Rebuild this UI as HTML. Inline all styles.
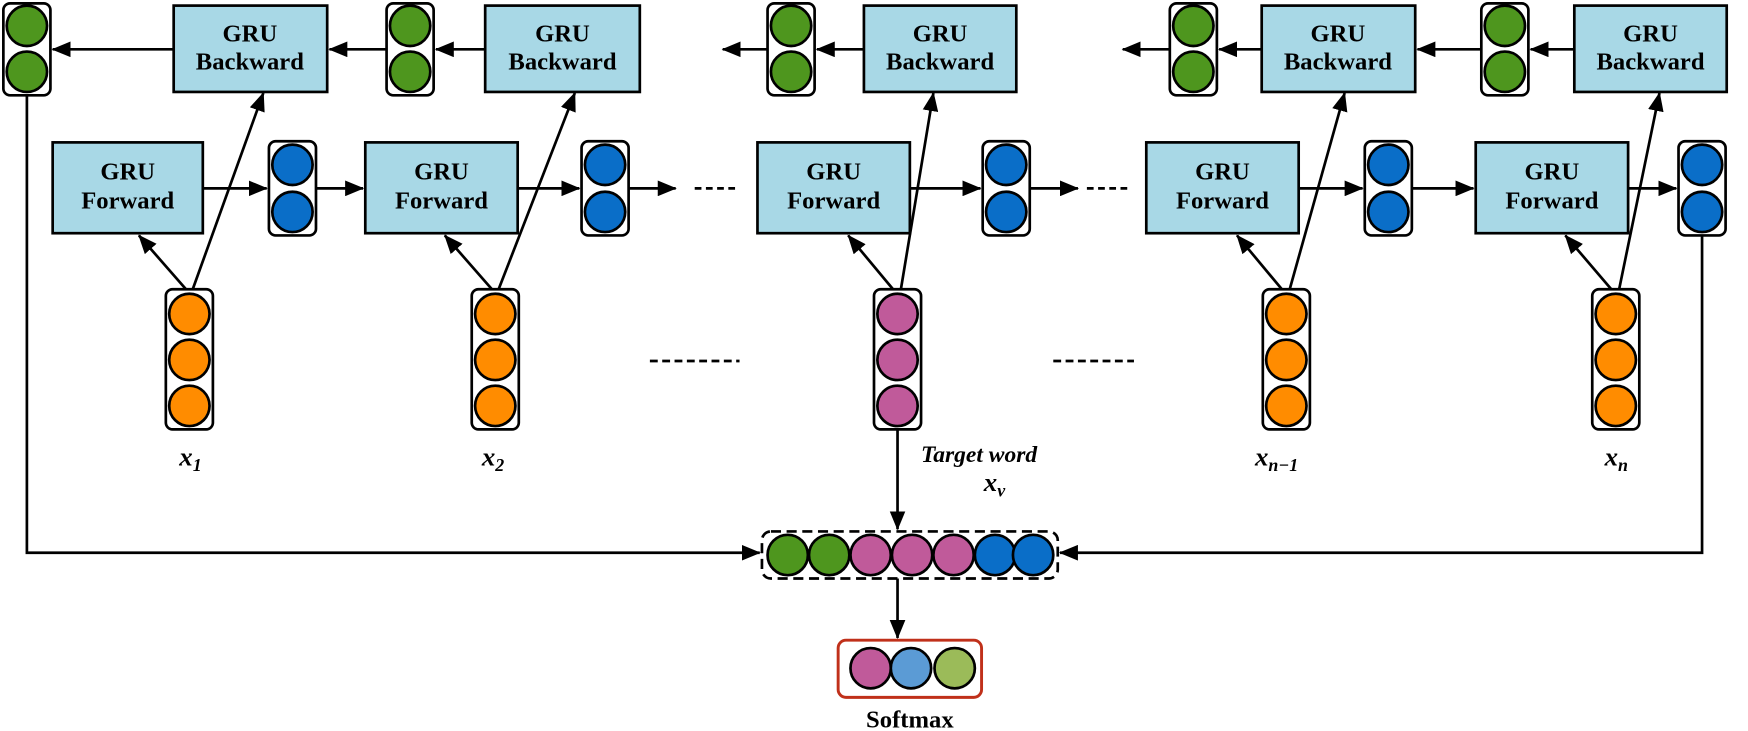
<!DOCTYPE html>
<html><head><meta charset="utf-8"><style>
html,body{margin:0;padding:0;background:#fff;}
svg{display:block;}
text{font-family:"Liberation Serif","DejaVu Serif","Times New Roman",serif;font-weight:bold;fill:#000;}
</style></head><body>
<svg width="1748" height="731" viewBox="0 0 1560 652" preserveAspectRatio="none" xmlns="http://www.w3.org/2000/svg" font-family="Liberation Serif, DejaVu Serif, serif">
<defs>
<marker id="a" markerWidth="17" markerHeight="14" refX="16" refY="7" orient="auto" markerUnits="userSpaceOnUse">
<path d="M0,0 L17,7 L0,14 z" fill="#000"/></marker>
</defs>
<g stroke="#000" stroke-width="2.4" fill="none">
<line x1="155" y1="44" x2="47" y2="44" marker-end="url(#a)"/>
<line x1="345" y1="44" x2="294" y2="44" marker-end="url(#a)"/>
<line x1="433" y1="44" x2="389" y2="44" marker-end="url(#a)"/>
<line x1="685" y1="44" x2="645" y2="44" marker-end="url(#a)"/>
<line x1="771" y1="44" x2="729" y2="44" marker-end="url(#a)"/>
<line x1="1044" y1="44" x2="1002" y2="44" marker-end="url(#a)"/>
<line x1="1126" y1="44" x2="1088" y2="44" marker-end="url(#a)"/>
<line x1="1322" y1="44" x2="1265" y2="44" marker-end="url(#a)"/>
<line x1="1405" y1="44" x2="1366" y2="44" marker-end="url(#a)"/>
<line x1="181" y1="168" x2="238" y2="168" marker-end="url(#a)"/>
<line x1="282" y1="168" x2="324" y2="168" marker-end="url(#a)"/>
<line x1="462" y1="168" x2="517" y2="168" marker-end="url(#a)"/>
<line x1="561" y1="168" x2="603" y2="168" marker-end="url(#a)"/>
<line x1="812" y1="168" x2="875" y2="168" marker-end="url(#a)"/>
<line x1="919" y1="168" x2="962" y2="168" marker-end="url(#a)"/>
<line x1="1159" y1="168" x2="1216" y2="168" marker-end="url(#a)"/>
<line x1="1260" y1="168" x2="1315" y2="168" marker-end="url(#a)"/>
<line x1="1453" y1="168" x2="1496" y2="168" marker-end="url(#a)"/>
<line x1="620" y1="168" x2="656" y2="168" stroke-dasharray="6,4"/>
<line x1="970" y1="168" x2="1006" y2="168" stroke-dasharray="6,4"/>
<line x1="580" y1="322" x2="660" y2="322" stroke-dasharray="7,4"/>
<line x1="940" y1="322" x2="1012" y2="322" stroke-dasharray="7,4"/>
<line x1="166" y1="258" x2="124" y2="210" marker-end="url(#a)"/>
<line x1="172" y1="258" x2="235" y2="83" marker-end="url(#a)"/>
<line x1="439" y1="258" x2="397" y2="210" marker-end="url(#a)"/>
<line x1="445" y1="258" x2="513" y2="83" marker-end="url(#a)"/>
<line x1="797" y1="258" x2="757" y2="210" marker-end="url(#a)"/>
<line x1="804" y1="258" x2="833" y2="83" marker-end="url(#a)"/>
<line x1="1144" y1="258" x2="1104" y2="210" marker-end="url(#a)"/>
<line x1="1151" y1="258" x2="1200" y2="83" marker-end="url(#a)"/>
<line x1="1438" y1="258" x2="1397" y2="210" marker-end="url(#a)"/>
<line x1="1445" y1="258" x2="1481" y2="83" marker-end="url(#a)"/>
<polyline points="24,85 24,493 678,493" marker-end="url(#a)"/>
<polyline points="1519,210 1519,493 946,493" marker-end="url(#a)"/>
<line x1="801" y1="383" x2="801" y2="472" marker-end="url(#a)"/>
<line x1="801" y1="516" x2="801" y2="569" marker-end="url(#a)"/>
</g>
<g fill="#a8d8e6" stroke="#000" stroke-width="2.4">
<rect x="155" y="5" width="137" height="77"/>
<rect x="433" y="5" width="138" height="77"/>
<rect x="771" y="5" width="136" height="77"/>
<rect x="1126" y="5" width="137" height="77"/>
<rect x="1405" y="5" width="136" height="77"/>
<rect x="47" y="127" width="134" height="81"/>
<rect x="326" y="127" width="136" height="81"/>
<rect x="676" y="127" width="136" height="81"/>
<rect x="1023" y="127" width="136" height="81"/>
<rect x="1317" y="127" width="136" height="81"/>
</g>
<g font-size="22" text-anchor="middle">
<text x="223" y="37">GRU</text><text x="223" y="62">Backward</text>
<text x="502" y="37">GRU</text><text x="502" y="62">Backward</text>
<text x="839" y="37">GRU</text><text x="839" y="62">Backward</text>
<text x="1194" y="37">GRU</text><text x="1194" y="62">Backward</text>
<text x="1473" y="37">GRU</text><text x="1473" y="62">Backward</text>
<text x="114" y="160">GRU</text><text x="114" y="186">Forward</text>
<text x="394" y="160">GRU</text><text x="394" y="186">Forward</text>
<text x="744" y="160">GRU</text><text x="744" y="186">Forward</text>
<text x="1091" y="160">GRU</text><text x="1091" y="186">Forward</text>
<text x="1385" y="160">GRU</text><text x="1385" y="186">Forward</text>
</g>
<g stroke="#000" stroke-width="2.4">
<g fill="#fff">
<rect x="3" y="3" width="42" height="82" rx="6"/>
<rect x="345" y="3" width="42" height="82" rx="6"/>
<rect x="685" y="3" width="42" height="82" rx="6"/>
<rect x="1044" y="3" width="42" height="82" rx="6"/>
<rect x="1322" y="3" width="42" height="82" rx="6"/>
<rect x="240" y="126" width="42" height="84" rx="6"/>
<rect x="519" y="126" width="42" height="84" rx="6"/>
<rect x="877" y="126" width="42" height="84" rx="6"/>
<rect x="1218" y="126" width="42" height="84" rx="6"/>
<rect x="1498" y="126" width="42" height="84" rx="6"/>
<rect x="148" y="258" width="42" height="125" rx="6"/>
<rect x="421" y="258" width="42" height="125" rx="6"/>
<rect x="780" y="258" width="42" height="125" rx="6"/>
<rect x="1127" y="258" width="42" height="125" rx="6"/>
<rect x="1421" y="258" width="42" height="125" rx="6"/>
</g>
<g fill="#4e961e">
<circle cx="24" cy="23" r="18"/><circle cx="24" cy="64" r="18"/>
<circle cx="366" cy="23" r="18"/><circle cx="366" cy="64" r="18"/>
<circle cx="706" cy="23" r="18"/><circle cx="706" cy="64" r="18"/>
<circle cx="1065" cy="23" r="18"/><circle cx="1065" cy="64" r="18"/>
<circle cx="1343" cy="23" r="18"/><circle cx="1343" cy="64" r="18"/>
</g>
<g fill="#0a6ec8">
<circle cx="261" cy="147" r="18"/><circle cx="261" cy="189" r="18"/>
<circle cx="540" cy="147" r="18"/><circle cx="540" cy="189" r="18"/>
<circle cx="898" cy="147" r="18"/><circle cx="898" cy="189" r="18"/>
<circle cx="1239" cy="147" r="18"/><circle cx="1239" cy="189" r="18"/>
<circle cx="1519" cy="147" r="18"/><circle cx="1519" cy="189" r="18"/>
</g>
<g fill="#ff8c00">
<circle cx="169" cy="280" r="18"/><circle cx="169" cy="321" r="18"/><circle cx="169" cy="362" r="18"/>
<circle cx="442" cy="280" r="18"/><circle cx="442" cy="321" r="18"/><circle cx="442" cy="362" r="18"/>
<circle cx="1148" cy="280" r="18"/><circle cx="1148" cy="321" r="18"/><circle cx="1148" cy="362" r="18"/>
<circle cx="1442" cy="280" r="18"/><circle cx="1442" cy="321" r="18"/><circle cx="1442" cy="362" r="18"/>
</g>
<g fill="#c05a9a">
<circle cx="801" cy="280" r="18"/><circle cx="801" cy="321" r="18"/><circle cx="801" cy="362" r="18"/>
</g>
<rect x="680" y="474" width="264" height="42" rx="8" fill="#fff" stroke-dasharray="9,5"/>
<circle cx="703" cy="495" r="18" fill="#4e961e"/>
<circle cx="740" cy="495" r="18" fill="#4e961e"/>
<circle cx="777" cy="495" r="18" fill="#c05a9a"/>
<circle cx="814" cy="495" r="18" fill="#c05a9a"/>
<circle cx="851" cy="495" r="18" fill="#c05a9a"/>
<circle cx="888" cy="495" r="18" fill="#0a6ec8"/>
<circle cx="922" cy="495" r="18" fill="#0a6ec8"/>
<rect x="748" y="571" width="128" height="51" rx="7" fill="#fff" stroke="#c0301a" stroke-width="2.6"/>
<circle cx="777" cy="596" r="18" fill="#c05a9a"/>
<circle cx="813" cy="596" r="18" fill="#5b9bd5"/>
<circle cx="852" cy="596" r="18" fill="#9bbb59"/>
</g>
<g font-size="24" font-style="italic">
<text x="160" y="415">x<tspan font-size="16" dy="5">1</tspan></text>
<text x="430" y="415">x<tspan font-size="16" dy="5">2</tspan></text>
<text x="1120" y="415">x<tspan font-size="16" dy="5">n−1</tspan></text>
<text x="1432" y="415">x<tspan font-size="16" dy="5">n</tspan></text>
<text x="822" y="412" font-size="21">Target word</text>
<text x="878" y="438">x<tspan font-size="16" dy="5">v</tspan></text>
</g>
<text x="812" y="649" font-size="22" text-anchor="middle">Softmax</text>
</svg>
</body></html>
